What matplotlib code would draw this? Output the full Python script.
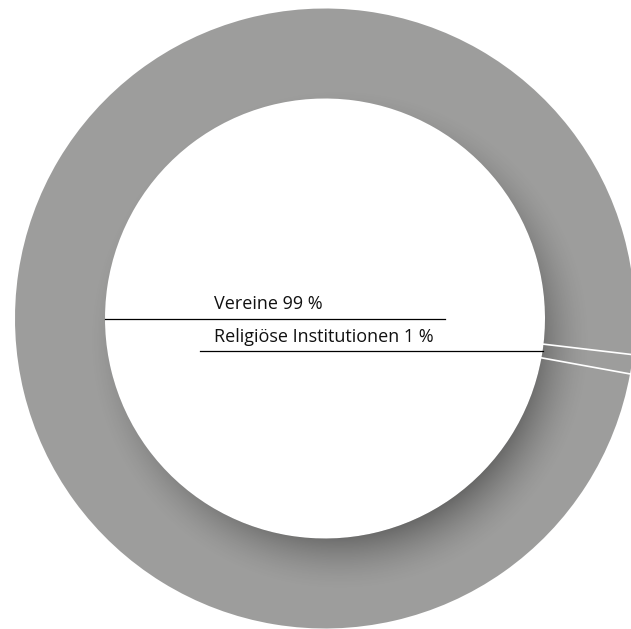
import numpy as np
import matplotlib
matplotlib.use('Agg')
import matplotlib.pyplot as plt

# data
categories = ['Vereine', 'Religiöse Institutionen']
shares = [99, 1]
labels = ['Vereine 99 %', 'Religiöse Institutionen 1 %']

W, H = 631, 629
cx, cy = 325, H - 318.5      # centre in pixel-ish data coords (y up)
r_out, r_in = 310, 220
start = -6.7                 # degrees, small slice sits just below 3 o'clock
base = '#9d9d9c'

fig = plt.figure(figsize=(W / 100, H / 100), dpi=100)
ax = fig.add_axes([0, 0, 1, 1])

wedges, _ = ax.pie(shares, startangle=start, counterclock=True, radius=r_out,
                   center=(cx, cy), colors=[base, base],
                   wedgeprops=dict(width=r_out - r_in, linewidth=0),
                   frame=True)
ax.set_xlim(0, W)
ax.set_ylim(0, H)
ax.set_aspect('equal')
ax.axis('off')

# soft shadow cast by the hole onto the lower right of the ring
xx, yy = np.meshgrid(np.arange(W) + 0.5, np.arange(H) + 0.5)
ang = np.deg2rad(-55)
s = 26
ox, oy = cx + s * np.cos(ang), cy + s * np.sin(ang)
d = np.hypot(xx - ox, yy - oy) - (r_in - s)
a = np.clip(1 - d / 58.0, 0, 1) ** 1.7 * 0.34
shade = np.zeros((H, W, 4))
shade[..., 3] = a
for w in wedges:
    im = ax.imshow(shade, extent=[0, W, 0, H], origin='lower', zorder=2,
                   interpolation='bilinear')
    im.set_clip_path(w)

# white separators between slices
theta = start
for v in shares:
    t = np.deg2rad(theta)
    ax.plot([cx + (r_in - 1) * np.cos(t), cx + (r_out + 5) * np.cos(t)],
            [cy + (r_in - 1) * np.sin(t), cy + (r_out + 5) * np.sin(t)],
            color='white', lw=1.2, zorder=3, solid_capstyle='butt')
    theta += v / sum(shares) * 360

# leader lines and labels
mid_small = np.deg2rad(start - shares[1] / sum(shares) * 360 / 2)
lead = [
    (cx - r_in, cy, 445),
    (cx + r_in * np.cos(mid_small), cy + r_in * np.sin(mid_small), 200),
]
for (ex, ey, x0), lab in zip(lead, labels):
    ax.plot([min(ex, x0), max(ex, x0)], [ey, ey], color='black', lw=0.9, zorder=4)
    ax.text(214, ey + 9.5, lab, fontsize=13, family='Open Sans', color='#111111',
            ha='left', va='baseline', zorder=4)

fig.savefig('out.png', dpi=100)
